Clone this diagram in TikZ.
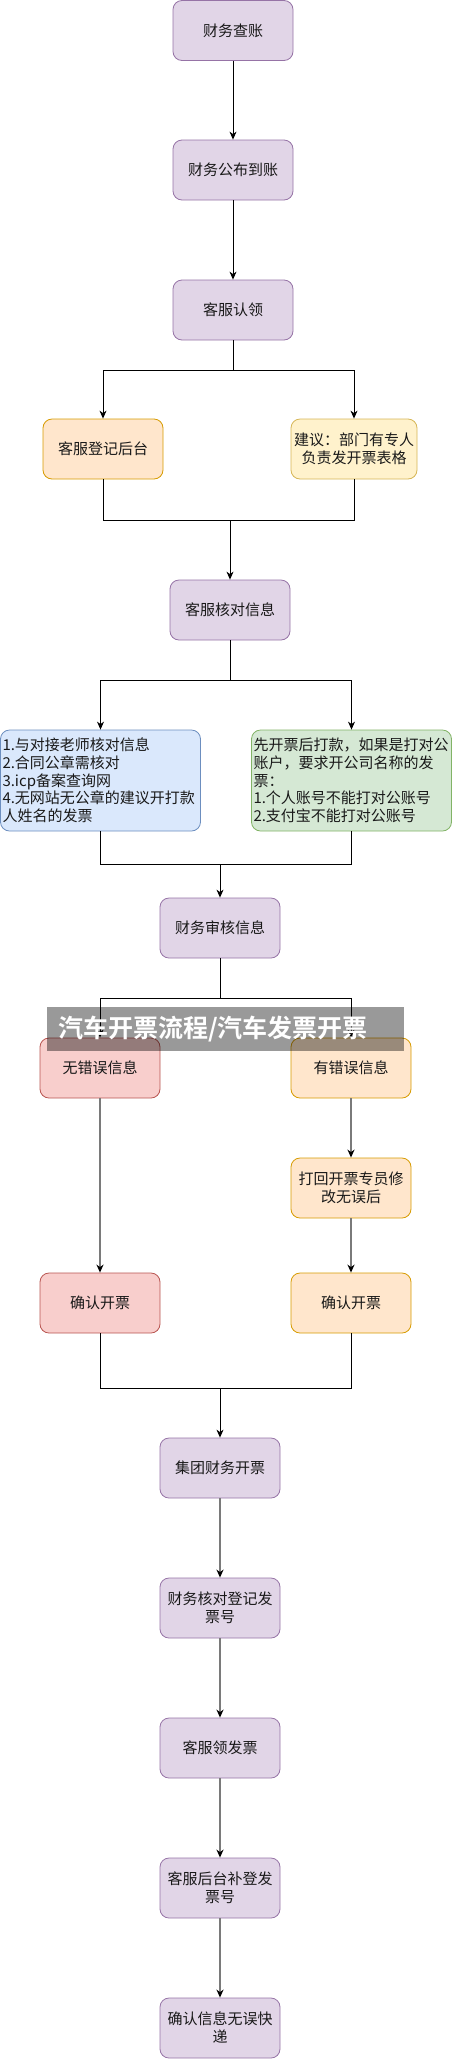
\documentclass[tikz,border=0pt]{standalone}
\usepackage{fontspec}
\setmainfont{Noto Sans CJK SC}
\newfontfamily\cjkbold{Noto Sans CJK SC Bold}
\usetikzlibrary{arrows.meta}
\definecolor{pfill}{HTML}{E1D5E7}\definecolor{pdraw}{HTML}{9673A6}
\definecolor{ofill}{HTML}{FFE6CC}\definecolor{odraw}{HTML}{D79B00}
\definecolor{yfill}{HTML}{FFF2CC}\definecolor{ydraw}{HTML}{D6B656}
\definecolor{bfill}{HTML}{DAE8FC}\definecolor{bdraw}{HTML}{6C8EBF}
\definecolor{gfill}{HTML}{D5E8D4}\definecolor{gdraw}{HTML}{82B366}
\definecolor{rfill}{HTML}{F8CECC}\definecolor{rdraw}{HTML}{B85450}
\definecolor{glin}{HTML}{7A7A7A}
\tikzset{
  box/.style={draw, rounded corners=9pt, line width=0.8pt, minimum width=120pt, minimum height=60pt,
    inner sep=0pt, align=center, font=\fontsize{15pt}{18pt}\selectfont, text=black!90},
  pbox/.style={box, fill=pfill, draw=pdraw},
  obox/.style={box, fill=ofill, draw=odraw},
  ybox/.style={box, fill=yfill, draw=ydraw},
  rbox/.style={box, fill=rfill, draw=rdraw},
  lbox/.style={box, minimum width=200pt, minimum height=101pt, text width=196pt, inner xsep=2pt, align=left,
    font=\fontsize{15pt}{17.7pt}\selectfont},
  tip/.style={-{Stealth[length=8pt,width=7pt,inset=2.5pt,color=black]}},
  blk/.style={draw=black, line width=0.9pt},
  gry/.style={draw=glin, line width=1.8pt},
}
\begin{document}
\begin{tikzpicture}[x=1pt,y=-1pt]
\useasboundingbox (0,0) rectangle (452,2059);
\node[pbox] (n1) at (233,30.5) {财务查账};
\node[pbox] (n2) at (233,170) {财务公布到账};
\node[pbox] (n3) at (233,310) {客服认领};
\node[obox] (n4) at (103,449) {客服登记后台};
\node[ybox, minimum width=126pt] (n5) at (354,449) {建议：部门有专人\\负责发开票表格};
\node[pbox] (n6) at (230,610) {客服核对信息};
\node[lbox, fill=bfill, draw=bdraw] (n7) at (100.5,780.5) {1.与对接老师核对信息\\2.合同公章需核对\\3.icp备案查询网\\4.无网站无公章的建议开打款\\人姓名的发票};
\node[lbox, fill=gfill, draw=gdraw] (n8) at (351.5,780.5) {先开票后打款，如果是打对公\\账户，要求开公司名称的发\\票：\\1.个人账号不能打对公账号\\2.支付宝不能打对公账号};
\node[pbox] (n9) at (220,928) {财务审核信息};
\node[rbox] (n10) at (100,1068) {无错误信息};
\node[obox] (n11) at (351,1068) {有错误信息};
\node[obox] (n12) at (351,1188) {打回开票专员修\\改无误后};
\node[rbox] (n13) at (100,1303) {确认开票};
\node[obox] (n14) at (351,1303) {确认开票};
\node[pbox] (n15) at (220,1468) {集团财务开票};
\node[pbox] (n16) at (220,1608) {财务核对登记发\\票号};
\node[pbox] (n17) at (220,1748) {客服领发票};
\node[pbox] (n18) at (220,1888) {客服后台补登发\\票号};
\node[pbox] (n19) at (220,2028) {确认信息无误快\\递};

\coordinate (s1) at (233,370);
\coordinate (m1) at (230,520);
\coordinate (s2) at (230,680);
\coordinate (m2) at (220,864);
\coordinate (s3) at (220,998);
\coordinate (m3) at (220,1388);

\draw[blk,tip] (n1) -- (n2);
\draw[blk,tip] (n2) -- (n3);
\draw[blk] (n3) -- (s1);
\draw[blk,tip] (s1) -| (n4);
\draw[blk,tip] (s1) -| (n5);
\draw[blk] (n4) |- (m1);
\draw[blk] (n5) |- (m1);
\draw[blk,tip] (m1) -- (n6);
\draw[blk] (n6) -- (s2);
\draw[blk,tip] (s2) -| (n7);
\draw[blk,tip] (s2) -| (n8);
\draw[blk] (n7) |- (m2);
\draw[blk] (n8) |- (m2);
\draw[blk,tip] (m2) -- (n9);
\draw[blk] (n9) -- (s3);
\draw[blk,tip] (s3) -| (n10);
\draw[blk,tip] (s3) -| (n11);
\draw[gry,tip] (n10) -- (n13);
\draw[gry,tip] (n11) -- (n12);
\draw[gry,tip] (n12) -- (n14);
\draw[blk] (n13) |- (m3);
\draw[blk] (n14) |- (m3);
\draw[blk,tip] (m3) -- (n15);
\draw[gry,tip] (n15) -- (n16);
\draw[gry,tip] (n16) -- (n17);
\draw[gry,tip] (n17) -- (n18);
\draw[gry,tip] (n18) -- (n19);

\fill[black, opacity=0.4] (47,1007) rectangle (404,1051);
\node[anchor=west, inner sep=0pt, text=white, font=\cjkbold\fontsize{25pt}{25pt}\selectfont] (banner) at (58,1029) {汽车开票流程/汽车发票开票};
\end{tikzpicture}
\end{document}
